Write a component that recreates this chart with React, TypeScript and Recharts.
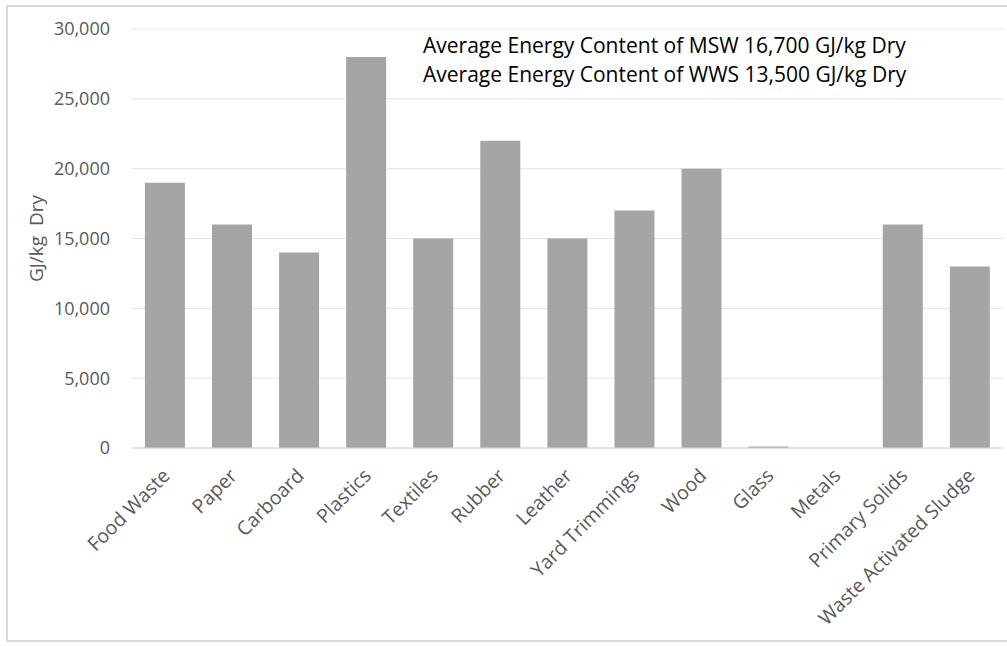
import React from 'react';
import { BarChart, Bar, XAxis, YAxis, CartesianGrid } from 'recharts';

const categories = ['Food Waste', 'Paper', 'Carboard', 'Plastics', 'Textiles', 'Rubber', 'Leather', 'Yard Trimmings', 'Wood', 'Glass', 'Metals', 'Primary Solids', 'Waste Activated Sludge'];
const energyValues = [19000, 16000, 14000, 28000, 15000, 22000, 15000, 17000, 20000, 100, 0, 16000, 13000];
const yTicks = [0, 5000, 10000, 15000, 20000, 25000, 30000];
const notes = ['Average Energy Content of MSW 16,700 GJ/kg Dry', 'Average Energy Content of WWS 13,500 GJ/kg Dry'];
const yLabel = 'GJ/kg\u00A0\u00A0Dry';

const data = categories.map((name, i) => ({ name, value: energyValues[i] }));

const FONT = '"Open Sans", "Liberation Sans", sans-serif';

const XTick = (props: any) => {
  const { x, y, payload } = props;
  return (
    <g transform={`translate(${x + 6},${y + 21})`}>
      <text textAnchor="end" transform="rotate(-45)" fill="#595959" fontSize={19.5} fontFamily={FONT}>
        {payload.value}
      </text>
    </g>
  );
};

const YLabel = (props: any) => {
  const vb = props.viewBox || {};
  const cy = (vb.y || 0) + (vb.height || 0) / 2;
  return (
    <text
      x={43}
      y={cy}
      transform={`rotate(-90, 43, ${cy})`}
      textAnchor="middle"
      fill="#595959"
      fontSize={19}
      fontFamily={FONT}
    >
      {yLabel}
    </text>
  );
};

const fmt = (v: number) => v.toLocaleString('en-US');

export default function App() {
  return (
    <div style={{ position: 'absolute', left: 0, top: 0, width: 1007, height: 646, background: '#fff' }}>
      <div style={{ position: 'absolute', left: 6, top: 5, width: 1010, height: 637, border: '2px solid #d9d9d9', boxSizing: 'border-box' }} />
      <div style={{ position: 'absolute', left: 0, top: 0 }}>
        <BarChart width={1007} height={646} data={data} margin={{ top: 29, right: 3.5, bottom: 0, left: 0 }} barCategoryGap="20%">
          <CartesianGrid vertical={false} stroke="#e4e4e4" strokeWidth={1} />
          <XAxis
            dataKey="name"
            interval={0}
            height={198}
            tickLine={false}
            axisLine={{ stroke: '#d9d9d9' }}
            tick={<XTick />}
          />
          <YAxis
            width={131.5}
            domain={[0, 30000]}
            ticks={yTicks}
            tickFormatter={fmt}
            tickLine={false}
            axisLine={false}
            tickMargin={15.5}
            tick={{ fill: '#595959', fontSize: 18, fontFamily: FONT }}
            label={<YLabel />}
          />
          <Bar dataKey="value" fill="#a5a5a5" isAnimationActive={false} />
        </BarChart>
      </div>
      <div style={{ position: 'absolute', left: 423, top: 31, fontFamily: FONT, fontSize: 21, color: '#000', lineHeight: '29px', whiteSpace: 'nowrap' }}>
        {notes.map((n) => (
          <div key={n}>{n}</div>
        ))}
      </div>
    </div>
  );
}
